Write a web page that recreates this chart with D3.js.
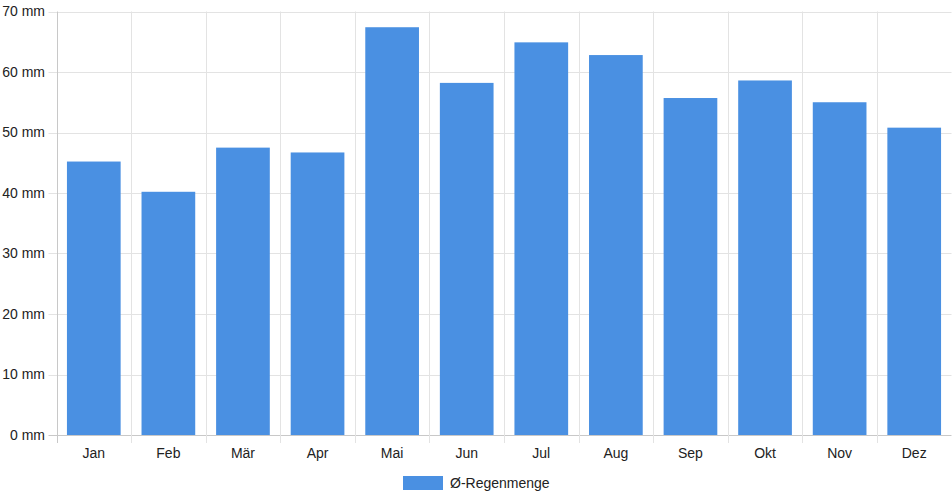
<!DOCTYPE html>
<html>
<head>
<meta charset="utf-8">
<script src="https://cdn.jsdelivr.net/npm/d3@7"></script>
<style>
  body { margin: 0; background: #fff; }
  svg { display: block; font-family: "Liberation Sans", Arial, sans-serif; }
</style>
</head>
<body>
<div id="chart"></div>
<script>
var months = ["Jan", "Feb", "Mär", "Apr", "Mai", "Jun", "Jul", "Aug", "Sep", "Okt", "Nov", "Dez"];
var rain = [45.2, 40.2, 47.5, 46.7, 67.4, 58.2, 64.9, 62.8, 55.7, 58.6, 55.0, 50.8];
var yTicks = [0, 10, 20, 30, 40, 50, 60, 70];
var seriesName = "Ø-Regenmenge";

var width = 952, height = 500;
var plotLeft = 56.5, plotRight = 951.5, plotTop = 11.5, plotBottom = 435;
var barColor = "#4a90e2";

var svg = d3.select("#chart").append("svg")
  .attr("width", width)
  .attr("height", height);

var x = d3.scaleBand()
  .domain(months)
  .range([plotLeft, plotRight]);

var y = d3.scaleLinear()
  .domain([0, 70])
  .range([plotBottom, plotTop]);

// horizontal grid + tick marks
svg.selectAll("hgrid")
  .data(yTicks)
  .enter()
  .append("line")
  .attr("x1", plotLeft - 8)
  .attr("x2", plotRight)
  .attr("y1", function(d) { return Math.round(y(d)) + 0.5; })
  .attr("y2", function(d) { return Math.round(y(d)) + 0.5; })
  .attr("stroke", function(d) { return d == 0 ? "#c8c8c8" : "#e3e3e3"; })
  .attr("stroke-width", 1);

// vertical grid lines at category borders
var borders = months.map(function(m) { return x(m); }).concat([plotRight]);
svg.selectAll("vgrid")
  .data(borders)
  .enter()
  .append("line")
  .attr("x1", function(d) { return Math.round(d) + 0.5; })
  .attr("x2", function(d) { return Math.round(d) + 0.5; })
  .attr("y1", plotTop)
  .attr("y2", plotBottom + 8)
  .attr("stroke", function(d, i) { return i == 0 ? "#c8c8c8" : "#e3e3e3"; })
  .attr("stroke-width", 1);

// bars
var bw = x.bandwidth() * 0.72;
svg.selectAll("rect.bar")
  .data(rain)
  .enter()
  .append("rect")
  .attr("class", "bar")
  .attr("x", function(d, i) { return x(months[i]) + (x.bandwidth() - bw) / 2; })
  .attr("y", function(d) { return y(d); })
  .attr("width", bw)
  .attr("height", function(d) { return y(0) - y(d); })
  .attr("fill", barColor);

// y tick labels
svg.selectAll("ylab")
  .data(yTicks)
  .enter()
  .append("text")
  .attr("x", 45)
  .attr("y", function(d) { return y(d); })
  .attr("dy", "0.35em")
  .attr("text-anchor", "end")
  .style("font-size", "14px")
  .style("fill", "#222")
  .text(function(d) { return d + " mm"; });

// x tick labels
svg.selectAll("xlab")
  .data(months)
  .enter()
  .append("text")
  .attr("x", function(d) { return x(d) + x.bandwidth() / 2; })
  .attr("y", 453)
  .attr("dy", "0.35em")
  .attr("text-anchor", "middle")
  .style("font-size", "14px")
  .style("fill", "#222")
  .text(function(d) { return d; });

// legend
svg.append("rect")
  .attr("x", 403)
  .attr("y", 476)
  .attr("width", 40)
  .attr("height", 14)
  .attr("fill", barColor);

svg.append("text")
  .attr("x", 450)
  .attr("y", 483)
  .attr("dy", "0.35em")
  .style("font-size", "14px")
  .style("fill", "#222")
  .text(seriesName);
</script>
</body>
</html>
